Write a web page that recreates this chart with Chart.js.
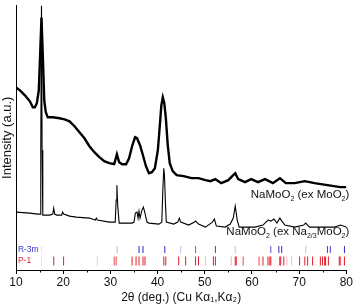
<!DOCTYPE html>
<html>
<head>
<meta charset="utf-8">
<script src="https://cdn.jsdelivr.net/npm/chart.js@4/dist/chart.umd.min.js"></script>
<style>
  html, body { margin: 0; padding: 0; background: #fff; }
  #wrap { width: 354px; height: 307px; }
</style>
</head>
<body>
<div id="wrap"><canvas id="xrd"></canvas></div>
<script>
// upper pattern: NaMoO2 made from MoO2 (2theta, counts a.u.)
var upperTheta = [10.0, 10.84, 11.89, 12.94, 13.57, 13.99, 14.41, 14.83, 15.15, 15.40, 15.68, 15.99, 16.31, 16.73, 17.78, 19.25, 20.3, 21.35, 22.4, 23.45, 24.5, 25.56, 26.6, 27.66, 28.7, 29.76, 30.81, 31.38, 31.86, 32.5, 33.33, 33.96, 34.6, 35.23, 35.65, 36.28, 36.9, 37.54, 38.17, 38.8, 39.43, 40.06, 40.48, 40.8, 41.11, 41.43, 41.74, 42.16, 42.58, 43.21, 44.05, 45.53, 47.2, 48.68, 50.15, 51.2, 52.25, 53.5, 54.99, 55.83, 56.46, 57.09, 58.56, 59.82, 61.29, 62.76, 64.44, 65.92, 67.18, 69.07, 71.17, 73.27, 76.0, 78.74, 80.0];
var upperCounts = [183, 180, 175, 169, 163, 163, 167, 180, 220, 253, 215, 170, 158, 153, 153, 152, 151, 149, 144, 138, 132, 124, 118, 113, 109, 107, 106, 116, 108, 106, 106, 112, 124, 133, 132, 125, 115, 104, 97, 98, 102, 120, 145, 165, 173, 167, 153, 125, 107, 99, 95, 94, 92, 92, 90, 89, 91, 87, 90, 94, 97, 91, 88, 91, 88, 91, 87, 92, 87, 87, 89, 87, 85, 83, 83];

// lower pattern: NaMoO2 made from Na2/3MoO2
var lowerTheta = [10.0, 12.94, 14.62, 15.15, 15.25, 15.40, 15.53, 15.68, 17.15, 17.78, 17.99, 18.2, 18.62, 19.67, 19.88, 20.09, 21.35, 22.8, 25.56, 26.8, 27.03, 27.24, 29.76, 31.02, 31.23, 31.38, 31.55, 31.86, 34.6, 35.0, 35.3, 35.65, 35.86, 36.07, 36.28, 36.7, 37.0, 37.33, 37.75, 38.17, 40.27, 40.9, 41.11, 41.32, 41.46, 41.64, 41.85, 43.42, 44.27, 44.6, 44.9, 46.58, 47.84, 48.05, 48.68, 50.15, 51.62, 52.04, 52.46, 54.35, 55.4, 56.04, 56.46, 56.88, 57.3, 60.66, 62.34, 63.4, 64.04, 64.66, 65.3, 65.92, 66.34, 66.97, 69.07, 70.96, 71.38, 72.22, 75.37, 77.48, 78.74, 79.37, 80.0];
var lowerCounts = [58, 57, 56, 56, 120, 265, 120, 55, 55, 56, 62, 56, 55, 55, 58, 56, 54, 53, 52, 50, 52, 50, 48, 48, 70, 85, 65, 47, 47, 48, 57, 58, 52, 59, 52, 60, 63, 57, 48, 47, 46, 48, 80, 102, 95, 70, 48, 46, 48, 52, 48, 45, 48, 49, 46, 43, 48, 51, 44, 43, 46, 52, 64, 50, 43, 43, 45, 50, 49, 51, 47, 52, 49, 45, 43, 45, 47, 43, 43, 43, 45, 44, 43];

// reference reflections
var r3mPos = [15.4, 31.44, 36.07, 36.91, 41.53, 44.9, 48.05, 52.25, 56.46, 64.0, 65.7, 66.3, 71.4, 76.0, 76.6, 79.6];
var r3mInt = [0.15, 0.35, 1, 1, 1, 0.3, 0.7, 0.9, 0.3, 0.8, 1, 1, 0.3, 0.9, 0.9, 1];
var p1Pos = [15.4, 18.0, 20.09, 27.24, 30.81, 31.23, 34.6, 35.44, 36.07, 36.91, 37.33, 41.32, 41.74, 44.48, 45.95, 48.05, 48.68, 50.15, 51.83, 52.25, 55.62, 56.46, 56.67, 58.14, 61.5, 62.34, 63.4, 63.8, 64.0, 65.9, 66.1, 66.76, 67.4, 68.4, 70.1, 71.2, 71.8, 72.85, 74.5, 74.96, 75.4, 75.6, 76.2, 78.5, 78.7, 79.6];
var p1Int = [0.15, 1, 1, 0.25, 0.8, 0.8, 1, 1, 1, 1, 1, 1, 1, 1, 1, 1, 1, 0.3, 1, 1, 0.35, 1, 1, 0.8, 0.8, 1, 1, 1, 1, 1, 1, 1, 0.3, 0.3, 1, 1, 1, 1, 1, 1, 1, 1, 1, 1, 1, 1];

var xTickMin = 10;
var xTickMax = 80;

function toPoints(xs, ys) {
  var pts = [];
  for (var i = 0; i < xs.length; i++) pts.push({x: xs[i], y: ys[i]});
  return pts;
}
function rowPoints(xs, level) {
  var pts = [];
  for (var i = 0; i < xs.length; i++) pts.push({x: xs[i], y: level});
  return pts;
}
function rgbaList(r, g, b, ints) {
  return ints.map(function (a) { return 'rgba(' + r + ',' + g + ',' + b + ',' + a + ')'; });
}

// text with subscripts, right aligned
function drawSubText(ctx, parts, xRight, y, size) {
  var big = size + 'px "Liberation Sans", Arial, sans-serif';
  var small = Math.round(size * 0.62) + 'px "Liberation Sans", Arial, sans-serif';
  var w = 0;
  parts.forEach(function (p) { ctx.font = p[1] ? small : big; w += ctx.measureText(p[0]).width; });
  var x = xRight - w;
  ctx.textBaseline = 'middle';
  ctx.textAlign = 'left';
  parts.forEach(function (p) {
    ctx.font = p[1] ? small : big;
    ctx.fillText(p[0], x, p[1] ? y + size * 0.38 : y);
    x += ctx.measureText(p[0]).width;
  });
}

var labelsPlugin = {
  id: 'xrdLabels',
  afterDatasetsDraw: function (chart) {
    var ctx = chart.ctx;
    var xs = chart.scales.x, ys = chart.scales.y;
    ctx.save();
    ctx.fillStyle = '#111';
    drawSubText(ctx, [['NaMoO', 0], ['2', 1], [' (ex MoO', 0], ['2', 1], [')', 0]], chart.chartArea.right + 3, ys.getPixelForValue(75), 11.5);
    drawSubText(ctx, [['NaMoO', 0], ['2', 1], [' (ex Na', 0], ['2/3', 1], ['MoO', 0], ['2', 1], [')', 0]], chart.chartArea.right + 3, ys.getPixelForValue(38), 11.5);
    ctx.font = '8.5px "Liberation Sans", Arial, sans-serif';
    ctx.textBaseline = 'middle';
    ctx.textAlign = 'left';
    ctx.fillStyle = '#3535d0';
    ctx.fillText('R-3m', xs.getPixelForValue(10.4), ys.getPixelForValue(20.5));
    ctx.fillStyle = '#e5222b';
    ctx.fillText('P-1', xs.getPixelForValue(10.4), ys.getPixelForValue(9.5));
    // minor ticks
    ctx.strokeStyle = '#000';
    ctx.lineWidth = 1;
    for (var v = xTickMin + 5; v < xTickMax; v += 10) {
      var px = Math.round(xs.getPixelForValue(v)) + 0.5;
      ctx.beginPath();
      ctx.moveTo(px, xs.top);
      ctx.lineTo(px, xs.top + 2.5);
      ctx.stroke();
    }
    ctx.restore();
  }
};

var ctx = document.getElementById('xrd').getContext('2d');
var chart = new Chart(ctx, {
  type: 'scatter',
  data: {
    datasets: [{
      label: 'ex MoO2',
      data: toPoints(upperTheta, upperCounts),
      showLine: true,
      borderColor: '#000',
      borderWidth: 2.4,
      pointRadius: 0,
      tension: 0
    }, {
      label: 'ex Na2/3MoO2',
      data: toPoints(lowerTheta, lowerCounts),
      showLine: true,
      borderColor: '#000',
      borderWidth: 1.1,
      pointRadius: 0,
      tension: 0
    }, {
      label: 'R-3m',
      data: rowPoints(r3mPos, 20.5),
      showLine: false,
      pointStyle: 'line',
      rotation: 90,
      pointRadius: 3.5,
      borderWidth: 1,
      borderColor: rgbaList(40, 40, 210, r3mInt)
    }, {
      label: 'P-1',
      data: rowPoints(p1Pos, 9),
      showLine: false,
      pointStyle: 'line',
      rotation: 90,
      pointRadius: 4.5,
      borderWidth: 1,
      borderColor: rgbaList(230, 30, 40, p1Int)
    }]
  },
  options: {
    responsive: true,
    maintainAspectRatio: false,
    animation: false,
    layout: { padding: { top: 5, right: 5, left: 0, bottom: 0 } },
    plugins: { legend: { display: false }, tooltip: { enabled: false } },
    scales: {
      x: {
        type: 'linear',
        min: xTickMin,
        max: xTickMax,
        afterFit: function (s) { s.height = 37; },
        ticks: {
          stepSize: 10,
          padding: 1,
          color: '#111',
          font: { size: 12, family: '"Liberation Sans", Arial, sans-serif' }
        },
        grid: { drawOnChartArea: false, tickLength: 4, color: '#000' },
        border: { color: '#000', width: 1 },
        title: {
          display: true,
          text: '2\u03b8 (deg.) (Cu K\u03b1\u2081,K\u03b1\u2082)',
          color: '#111',
          padding: { top: 0, bottom: 2 },
          font: { size: 12, family: '"Liberation Sans", Arial, sans-serif' }
        }
      },
      y: {
        min: 0,
        max: 265,
        afterFit: function (s) { s.width = 16; },
        ticks: { display: false },
        grid: { drawOnChartArea: false, drawTicks: false },
        border: { color: '#000', width: 1 },
        title: {
          display: true,
          text: 'Intensity (a.u.)',
          color: '#111',
          padding: { top: 0, bottom: 0 },
          font: { size: 13, family: '"Liberation Sans", Arial, sans-serif' }
        }
      }
    }
  },
  plugins: [labelsPlugin]
});
</script>
</body>
</html>
